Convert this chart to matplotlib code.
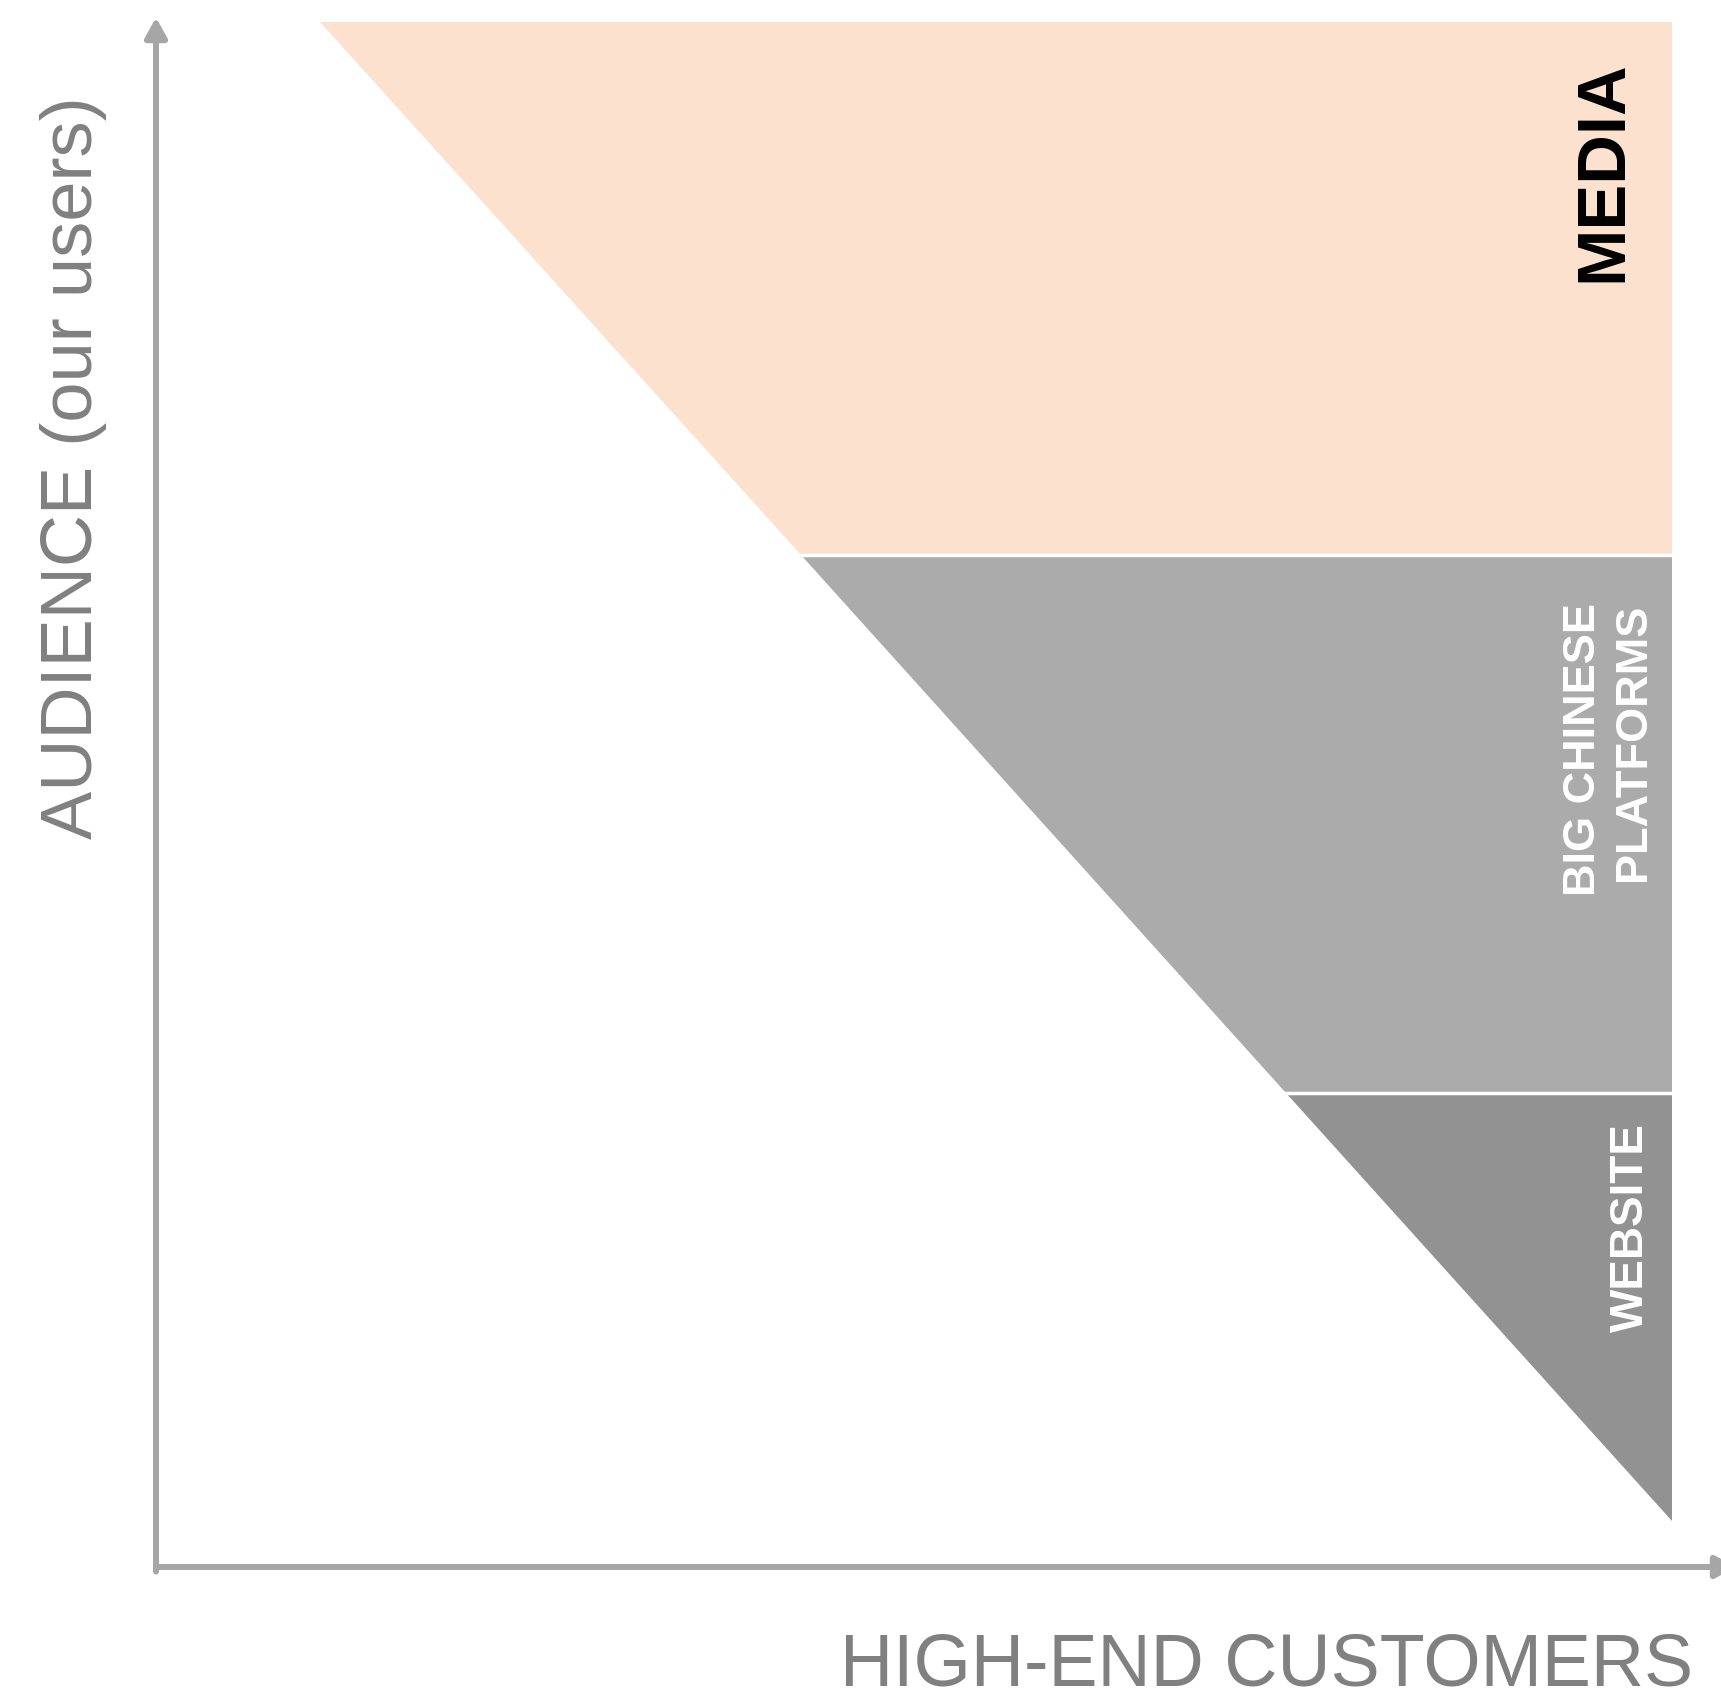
import matplotlib
matplotlib.use("Agg")
import matplotlib.pyplot as plt
from matplotlib.patches import Polygon

plt.rcParams['font.family'] = ['Liberation Sans', 'DejaVu Sans']

# ---- data (normalised diagram units) ----
tiers = ["WEBSITE", "BIG CHINESE\nPLATFORMS", "MEDIA"]
tier_bottoms = [0.030, 0.307, 0.655]
tier_tops = [0.307, 0.655, 1.000]
tier_colors = ["#929292", "#ABABAB", "#FCE1CE"]
tier_text_colors = ["white", "white", "black"]
tier_font_sizes = [33, 32.5, 49.5]
tier_label_x = [0.973, 0.958, 0.955]
tier_label_y = [0.220, 0.529, 0.9036]
diag_top_x = 0.108     # x where diagonal meets top (y=1)
diag_bottom_y = 0.030  # y where diagonal meets right edge (x=1)
x_label = "HIGH-END CUSTOMERS"
y_label = "AUDIENCE (our users)"

W, H = 1721, 1697
fig = plt.figure(figsize=(W / 100, H / 100), dpi=100)
# axes from origin (156,1567) to (1672,22) in pixels
x0, y0, x1, y1 = 156, 1567, 1672, 22
ax = fig.add_axes([x0 / W, 1 - y0 / H, (x1 - x0) / W, (y0 - y1) / H])
ax.set_xlim(0, 1)
ax.set_ylim(0, 1)
ax.axis('off')


def diag_x(y):
    return diag_top_x + (1 - y) * (1 - diag_top_x) / (1 - diag_bottom_y)


for b, t, c in zip(tier_bottoms, tier_tops, tier_colors):
    verts = [(diag_x(b), b), (1, b), (1, t), (diag_x(t), t)]
    ax.add_patch(Polygon(verts, closed=True, facecolor=c, edgecolor='none'))

# white separators between tiers
for b in tier_bottoms[1:]:
    ax.plot([diag_x(b) - 0.01, 1.0], [b, b], color='white', lw=2.5, solid_capstyle='butt')

for lab, tx, ty, tc, fs in zip(tiers, tier_label_x, tier_label_y, tier_text_colors, tier_font_sizes):
    ax.text(tx, ty, lab, rotation=90, ha='center', va='center', color=tc,
            fontsize=fs, fontweight='bold', multialignment='right',
            linespacing=1.3, rotation_mode='anchor')

axis_color = '#A6A6A6'
arrow_style = '-|>,head_length=0.4,head_width=0.22'
ax.annotate('', xy=(0, 1.003), xytext=(0, -0.003), xycoords='data',
            arrowprops=dict(arrowstyle=arrow_style, lw=4.3, color=axis_color,
                            mutation_scale=30, shrinkA=0, shrinkB=0),
            annotation_clip=False)
ax.annotate('', xy=(1.042, 0), xytext=(0.0, 0), xycoords='data',
            arrowprops=dict(arrowstyle=arrow_style, lw=4.3, color=axis_color,
                            mutation_scale=30, shrinkA=0, shrinkB=0),
            annotation_clip=False)

fig.text(1693 / W, 1 - 1686 / H, x_label, ha='right', va='baseline',
         color='#808080', fontsize=53)
fig.text(92 / W, 1 - 468 / H, y_label, ha='center', va='baseline',
         rotation=90, rotation_mode='anchor', color='#808080', fontsize=52)

fig.savefig('out.png', dpi=100, facecolor='white')
